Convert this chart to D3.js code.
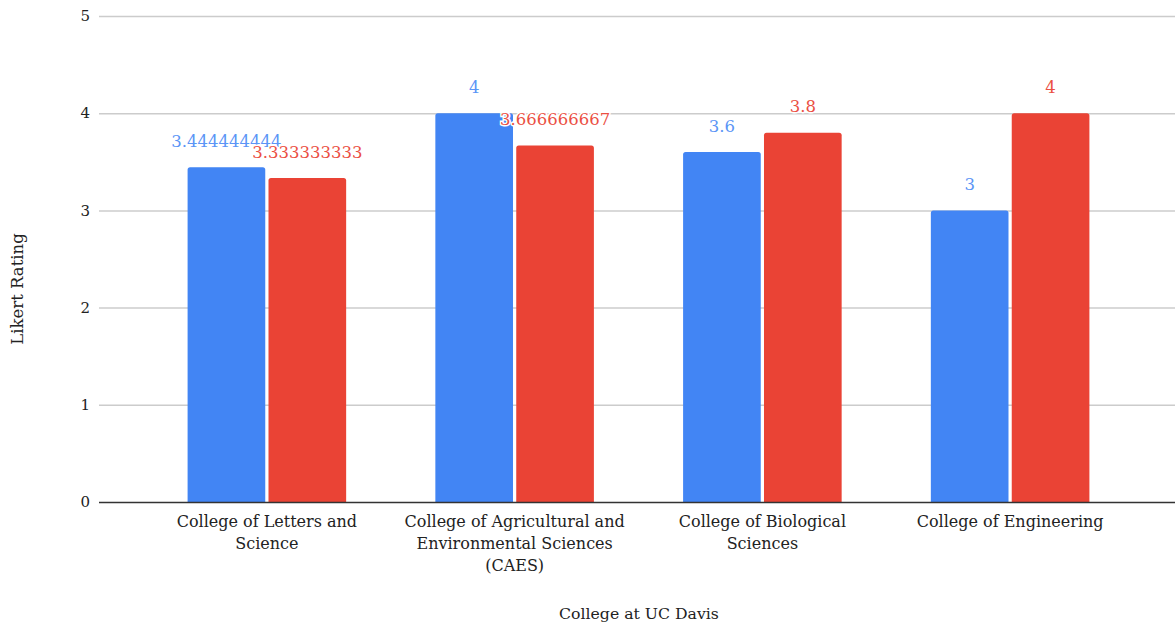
<!DOCTYPE html>
<html>
<head>
<meta charset="utf-8">
<script src="https://cdn.jsdelivr.net/npm/d3@7"></script>
<style>
  html, body { margin: 0; padding: 0; background: #fff; }
  svg { display: block; font-family: "DejaVu Serif", Georgia, serif; }
</style>
</head>
<body>
<svg id="chart" width="1175" height="634"></svg>
<script>
// Likert ratings by college, two survey series
const categories = [
  ["College of Letters and", "Science"],
  ["College of Agricultural and", "Environmental Sciences", "(CAES)"],
  ["College of Biological", "Sciences"],
  ["College of Engineering"]
];
const seriesA = [3.444444444, 4, 3.6, 3];
const seriesB = [3.333333333, 3.666666667, 3.8, 4];
const seriesLabelsA = ["3.444444444", "4", "3.6", "3"];
const seriesLabelsB = ["3.333333333", "3.666666667", "3.8", "4"];
const yTicks = [0, 1, 2, 3, 4, 5];

const colorA = "#4285F4", colorB = "#EA4335";
const labelColorA = "#5b95f6", labelColorB = "#eb4f43";

const svg = d3.select("#chart");
const gridLeft = 99, gridRight = 1175;
const plotTop = 16, plotBottom = 502;

const y = d3.scaleLinear().domain([0, 5]).range([plotBottom, plotTop]);
const x = d3.scaleBand().domain(d3.range(categories.length)).range([143, 1134]).paddingInner(0.36).paddingOuter(0.18);
const x1 = d3.scaleBand().domain([0, 1]).range([0, x.bandwidth()]).paddingInner(0.04);

// gridlines
svg.append("g").selectAll("line").data(yTicks.filter(d => d > 0)).join("line")
  .attr("x1", gridLeft).attr("x2", gridRight)
  .attr("y1", d => y(d) + 0.5).attr("y2", d => y(d) + 0.5)
  .attr("stroke", "#cccccc").attr("stroke-width", 1.5);

// y tick labels
svg.append("g").selectAll("text").data(yTicks).join("text")
  .attr("x", 90).attr("y", d => y(d)).attr("dy", "0.35em")
  .attr("text-anchor", "end").attr("font-size", 15).attr("fill", "#222")
  .text(d => d);

// rounded-top bar path
function barPath(x0, w, yTop, yBot, r) {
  r = Math.min(r, w / 2, (yBot - yTop) / 2);
  return `M${x0},${yBot}V${yTop + r}Q${x0},${yTop} ${x0 + r},${yTop}H${x0 + w - r}Q${x0 + w},${yTop} ${x0 + w},${yTop + r}V${yBot}Z`;
}

const groups = categories.map((c, i) => ({
  i,
  bars: [
    { s: 0, v: seriesA[i], label: seriesLabelsA[i], color: colorA, lc: labelColorA },
    { s: 1, v: seriesB[i], label: seriesLabelsB[i], color: colorB, lc: labelColorB }
  ]
}));

const g = svg.append("g").selectAll("g").data(groups).join("g")
  .attr("transform", d => `translate(${x(d.i)},0)`);

g.selectAll("path").data(d => d.bars).join("path")
  .attr("d", b => barPath(x1(b.s), x1.bandwidth(), y(b.v), y(0), 2.5))
  .attr("fill", b => b.color);

// baseline
svg.append("line")
  .attr("x1", gridLeft).attr("x2", gridRight)
  .attr("y1", y(0) + 0.5).attr("y2", y(0) + 0.5)
  .attr("stroke", "#333").attr("stroke-width", 1.5);

// value labels
g.selectAll("text.val").data(d => d.bars).join("text")
  .attr("class", "val")
  .attr("x", b => x1(b.s) + x1.bandwidth() / 2)
  .attr("y", b => y(b.v) - 26).attr("dy", "0.35em")
  .attr("text-anchor", "middle").attr("font-size", 16.5)
  .attr("fill", b => b.lc)
  .attr("stroke", "#fff").attr("stroke-width", 3).attr("paint-order", "stroke")
  .text(b => b.label);

// category labels
const cl = svg.append("g").selectAll("text").data(groups).join("text")
  .attr("x", d => x(d.i) + x.bandwidth() / 2)
  .attr("y", 521)
  .attr("text-anchor", "middle").attr("font-size", 16).attr("fill", "#222");
cl.selectAll("tspan").data(d => categories[d.i]).join("tspan")
  .attr("x", function() { return this.parentNode.getAttribute("x"); })
  .attr("dy", (t, k) => k === 0 ? "0.35em" : 22)
  .text(t => t);

// axis titles
svg.append("text")
  .attr("x", 639).attr("y", 614).attr("dy", "0.35em")
  .attr("text-anchor", "middle").attr("font-size", 15.7).attr("fill", "#222")
  .text("College at UC Davis");

svg.append("text")
  .attr("transform", "translate(17,289) rotate(-90)")
  .attr("dy", "0.35em")
  .attr("text-anchor", "middle").attr("font-size", 16.5).attr("fill", "#222")
  .text("Likert Rating");
</script>
</body>
</html>
